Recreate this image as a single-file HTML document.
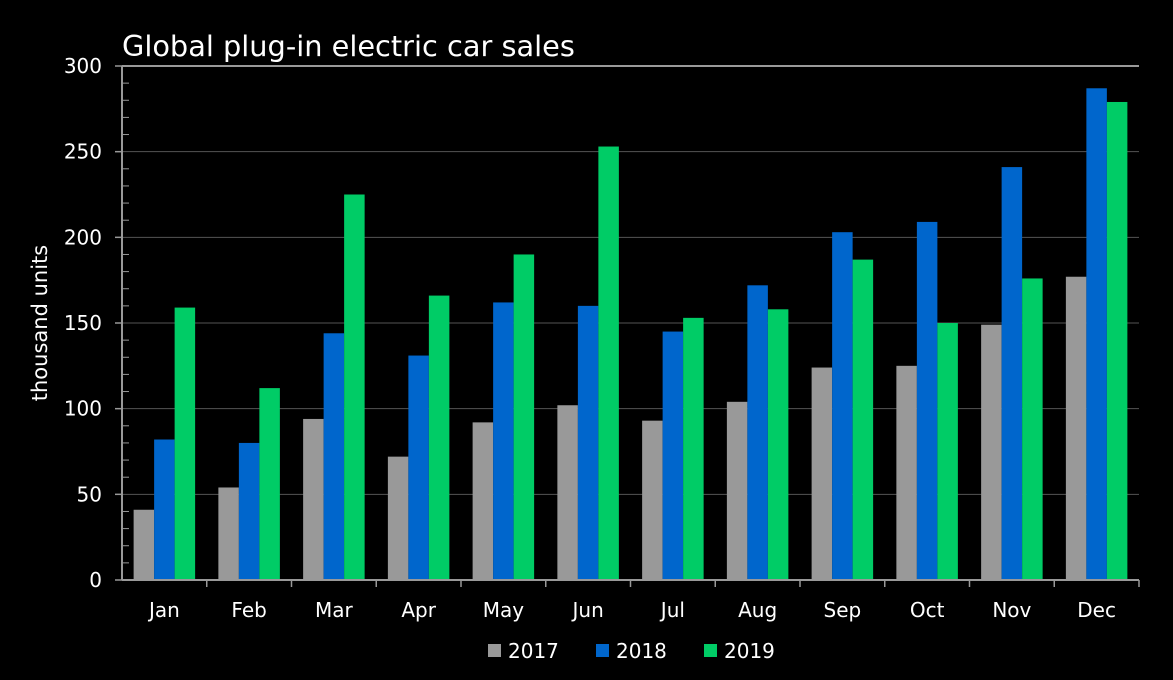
<!DOCTYPE html>
<html><head><meta charset="utf-8"><style>
html,body{margin:0;background:#000;width:1173px;height:680px;overflow:hidden;}
svg{display:block;}
svg text{font-family:"DejaVu Sans","Liberation Sans",sans-serif;fill:#fff;}
</style></head><body>
<svg id="chart" width="1173" height="680" xmlns="http://www.w3.org/2000/svg">
<rect width="1173" height="680" fill="#000"/>
<text x="122" y="56" font-size="28.8">Global plug-in electric car sales</text>
<text transform="translate(47,323) rotate(-90)" font-size="21" text-anchor="middle">thousand units</text>
<g id="grid"></g><g id="bars"></g><g id="axes"></g><g id="legend"></g>
</svg>
<script>
const categories=["Jan","Feb","Mar","Apr","May","Jun","Jul","Aug","Sep","Oct","Nov","Dec"];
const seriesNames=["2017","2018","2019"];
const s2017=[41,54,94,72,92,102,93,104,124,125,149,177];
const s2018=[82,80,144,131,162,160,145,172,203,209,241,287];
const s2019=[159,112,225,166,190,253,153,158,187,150,176,279];
const yTicks=[0,50,100,150,200,250,300];
const colors=["#999999","#0066CC","#00CC66"];
const NS="http://www.w3.org/2000/svg";
const X0=122,X1=1139,Y0=580,Y1=66,YMAX=300;
const y=v=>Y0-(v/YMAX)*(Y0-Y1);
const cw=(X1-X0)/categories.length;
function mk(t,a,p){const e=document.createElementNS(NS,t);for(const k in a)e.setAttribute(k,a[k]);p.appendChild(e);return e;}
const grid=document.getElementById('grid'),bars=document.getElementById('bars'),axes=document.getElementById('axes'),leg=document.getElementById('legend');
yTicks.forEach(v=>{
  if(v>0&&v<YMAX){const l=mk('line',{x1:X0,x2:X1,y1:y(v),y2:y(v),stroke:'#555','stroke-width':1},grid);
  
  }
  const t=mk('line',{x1:X0-7,x2:X0,y1:y(v),y2:y(v),stroke:'#999','stroke-width':1.5},axes);
  
  
  const tx=mk('text',{x:X0-20,y:y(v)+7,'font-size':20,'text-anchor':'end'},axes);tx.textContent=v;
  
  
});
for(let v=10;v<YMAX;v+=10){if(v%50===0)continue;
  const t=mk('line',{x1:X0,x2:X0+7,y1:y(v),y2:y(v),stroke:'#999','stroke-width':1},axes);
  
  }
const topBorder=mk('line',{x1:X0,x2:X1,y1:Y1,y2:Y1,stroke:'#999','stroke-width':2},axes);


const ya=mk('line',{x1:X0,x2:X0,y1:Y1,y2:Y0,stroke:'#999','stroke-width':2},axes);


const xa=mk('line',{x1:X0,x2:X1,y1:Y0,y2:Y0,stroke:'#999','stroke-width':2},axes);


const data=[s2017,s2018,s2019];const bw=20.5;
categories.forEach((c,i)=>{
  const cx=X0+cw*(i+0.5);
  data.forEach((s,j)=>{
    const bx=cx-1.5*bw+j*bw;
    const r=mk('rect',{x:bx,y:y(s[i]),width:bw,height:Y0-y(s[i]),fill:colors[j]},bars);
    
    
  });
  const t=mk('line',{x1:X0+cw*(i+1),x2:X0+cw*(i+1),y1:Y0,y2:Y0+7,stroke:'#999','stroke-width':1.5},axes);
  
  
  const tx=mk('text',{x:cx,y:Y0+37,'font-size':20,'text-anchor':'middle'},axes);tx.textContent=c;
  
  
});
const lx=[488,596,704];
seriesNames.forEach((n,j)=>{
  const r=mk('rect',{x:lx[j],y:644,width:13,height:13,fill:colors[j]},leg);
  
  
  const t=mk('text',{x:lx[j]+20,y:658,'font-size':20},leg);t.textContent=n;
  
  
});
</script>
</body></html>
